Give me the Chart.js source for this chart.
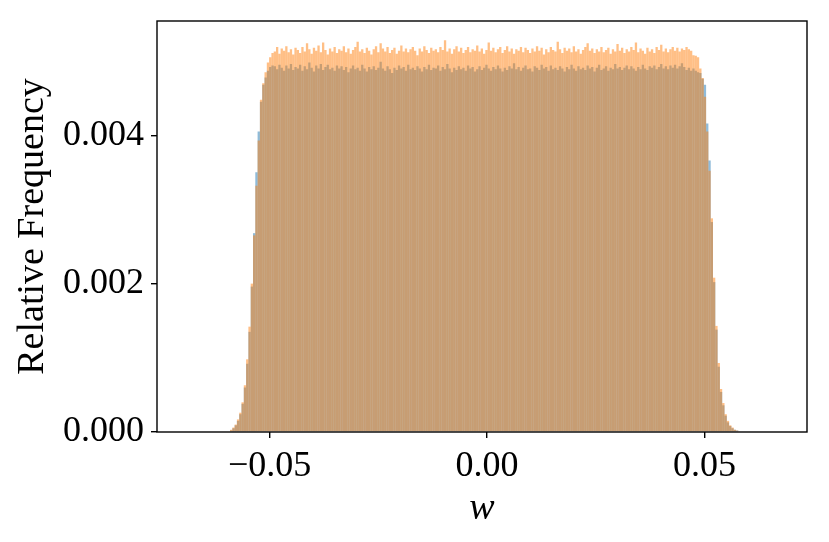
<!DOCTYPE html>
<html>
<head>
<meta charset="utf-8">
<script src="https://cdn.jsdelivr.net/npm/chart.js@4.4.1/dist/chart.umd.min.js"></script>
<style>
  html, body { margin: 0; padding: 0; background: #fff; }
</style>
</head>
<body>
<canvas id="myChart" width="829" height="542"></canvas>
<script>
// histogram bins (left edge of first bin, bin width)
var binStart = -0.05911;
var binWidth = 0.000529;

var blueValues = [
  0.00002, 0.00005, 0.00009, 0.00015, 0.00024, 0.00038, 0.00060, 0.00092, 0.00135, 0.00196,
  0.00268, 0.00350, 0.00405, 0.00445, 0.00468, 0.00478, 0.00487, 0.00492, 0.00494,
  0.00493, 0.00489, 0.00495, 0.00491, 0.00487, 0.00494, 0.00490, 0.00496, 0.00488, 0.00492,
  0.00490, 0.00495, 0.00487, 0.00493, 0.00489, 0.00498, 0.00491, 0.00486, 0.00494, 0.00490,
  0.00496, 0.00488, 0.00492, 0.00495, 0.00489, 0.00491, 0.00487, 0.00494, 0.00490, 0.00493,
  0.00488, 0.00492, 0.00485, 0.00490, 0.00494, 0.00489, 0.00491, 0.00487, 0.00495, 0.00490,
  0.00486, 0.00492, 0.00489, 0.00493, 0.00488, 0.00491, 0.00499, 0.00490, 0.00487, 0.00493,
  0.00489, 0.00484, 0.00491, 0.00488, 0.00494, 0.00490, 0.00492, 0.00487, 0.00495, 0.00489,
  0.00491, 0.00488, 0.00493, 0.00490, 0.00486, 0.00492, 0.00489, 0.00495, 0.00488, 0.00491,
  0.00490, 0.00494, 0.00487, 0.00492, 0.00489, 0.00496, 0.00490, 0.00485, 0.00491, 0.00488,
  0.00493, 0.00489, 0.00491, 0.00487, 0.00494, 0.00490, 0.00492, 0.00486, 0.00489, 0.00493,
  0.00488, 0.00491, 0.00495, 0.00490, 0.00487, 0.00492, 0.00489, 0.00494, 0.00490, 0.00486,
  0.00491, 0.00488, 0.00493, 0.00490, 0.00497, 0.00489, 0.00492, 0.00487, 0.00491, 0.00494,
  0.00489, 0.00490, 0.00486, 0.00493, 0.00491, 0.00488, 0.00495, 0.00490, 0.00492, 0.00487,
  0.00494, 0.00489, 0.00491, 0.00488, 0.00493, 0.00490, 0.00486, 0.00492, 0.00489, 0.00495,
  0.00490, 0.00487, 0.00493, 0.00489, 0.00491, 0.00488, 0.00494, 0.00490, 0.00492, 0.00486,
  0.00491, 0.00495, 0.00488, 0.00490, 0.00493, 0.00487, 0.00491, 0.00489, 0.00496, 0.00490,
  0.00492, 0.00488, 0.00491, 0.00494, 0.00489, 0.00493, 0.00490, 0.00487, 0.00492, 0.00489,
  0.00495, 0.00490, 0.00488, 0.00493, 0.00491, 0.00494, 0.00489, 0.00492, 0.00496, 0.00490,
  0.00493, 0.00489, 0.00494, 0.00491, 0.00495, 0.00490, 0.00493, 0.00497, 0.00492, 0.00488, 0.00491,
  0.00487, 0.00490, 0.00487, 0.00485, 0.00484, 0.00476, 0.00468, 0.00416, 0.00366, 0.00283,
  0.00202, 0.00138, 0.00088, 0.00054, 0.00036, 0.00022, 0.00013, 0.00008, 0.00005, 0.00003,
  0.00002, 0.00001
];

var orangeValues = [
  0.00003, 0.00006, 0.00010, 0.00017, 0.00026, 0.00040, 0.00063, 0.00098, 0.00142, 0.00200,
  0.00265, 0.00332, 0.00393, 0.00448, 0.00470, 0.00485, 0.00498, 0.00505, 0.00511,
  0.00513, 0.00519, 0.00510, 0.00517, 0.00514, 0.00520, 0.00512, 0.00516, 0.00509, 0.00518,
  0.00515, 0.00511, 0.00519, 0.00513, 0.00524, 0.00516, 0.00510, 0.00518, 0.00514, 0.00521,
  0.00512, 0.00525, 0.00515, 0.00509, 0.00517, 0.00513, 0.00519, 0.00511, 0.00516, 0.00514,
  0.00520, 0.00512, 0.00517, 0.00510, 0.00515, 0.00519, 0.00526, 0.00513, 0.00516, 0.00511,
  0.00518, 0.00514, 0.00509, 0.00516, 0.00520, 0.00512, 0.00524, 0.00517, 0.00513, 0.00519,
  0.00511, 0.00515, 0.00518, 0.00510, 0.00514, 0.00521, 0.00513, 0.00517, 0.00512, 0.00516,
  0.00519, 0.00514, 0.00508, 0.00517, 0.00513, 0.00520, 0.00515, 0.00511, 0.00518, 0.00514,
  0.00516, 0.00512, 0.00519, 0.00515, 0.00528, 0.00513, 0.00517, 0.00510, 0.00516, 0.00520,
  0.00513, 0.00518, 0.00511, 0.00515, 0.00519, 0.00512, 0.00516, 0.00514, 0.00521, 0.00513,
  0.00517, 0.00510, 0.00515, 0.00525, 0.00514, 0.00518, 0.00512, 0.00516, 0.00519, 0.00511,
  0.00515, 0.00520, 0.00513, 0.00517, 0.00510, 0.00516, 0.00514, 0.00519, 0.00512, 0.00518,
  0.00515, 0.00511, 0.00517, 0.00513, 0.00520, 0.00514, 0.00518, 0.00509, 0.00516, 0.00512,
  0.00519, 0.00515, 0.00513, 0.00526, 0.00516, 0.00511, 0.00518, 0.00514, 0.00517, 0.00512,
  0.00520, 0.00513, 0.00516, 0.00510, 0.00515, 0.00519, 0.00524, 0.00514, 0.00517, 0.00511,
  0.00516, 0.00513, 0.00519, 0.00512, 0.00515, 0.00518, 0.00510, 0.00516, 0.00513, 0.00523,
  0.00514, 0.00518, 0.00511, 0.00516, 0.00513, 0.00519, 0.00515, 0.00525, 0.00512, 0.00517,
  0.00514, 0.00510, 0.00518, 0.00513, 0.00516, 0.00511, 0.00519, 0.00515, 0.00522, 0.00513,
  0.00517, 0.00512, 0.00516, 0.00519, 0.00514, 0.00518, 0.00513, 0.00517, 0.00515, 0.00519, 0.00516,
  0.00514, 0.00508, 0.00507, 0.00505, 0.00490, 0.00477, 0.00452, 0.00405, 0.00352, 0.00288,
  0.00208, 0.00143, 0.00093, 0.00058, 0.00039, 0.00024, 0.00015, 0.00009, 0.00006, 0.00003,
  0.00002, 0.00001
];

var xTicks = [-0.05, 0, 0.05];
var xTickLabels = ["\u22120.05", "0.00", "0.05"];
var yTicks = [0, 0.002, 0.004];
var yTickLabels = ["0.000", "0.002", "0.004"];

var binCenters = blueValues.map(function (v, i) { return binStart + (i + 0.5) * binWidth; });

function toPoints(values) {
  return values.map(function (v, i) { return { x: binCenters[i], y: v }; });
}

var serif = "'Liberation Serif', 'DejaVu Serif', serif";

// box around the plot area, like matplotlib's spines
var framePlugin = {
  id: "frame",
  afterDatasetsDraw: function (chart) {
    var a = chart.chartArea;
    var ctx = chart.ctx;
    ctx.save();
    ctx.strokeStyle = "#000";
    ctx.lineWidth = 1.4;
    ctx.strokeRect(a.left, a.top, a.right - a.left, a.bottom - a.top);
    ctx.restore();
  }
};

var barStyle = {
  grouped: false,
  barPercentage: 1,
  categoryPercentage: 1,
  borderWidth: 0,
  inflateAmount: 0
};

new Chart("myChart", {
  type: "bar",
  data: {
    datasets: [
      Object.assign({
        data: toPoints(blueValues),
        backgroundColor: "rgba(31, 119, 180, 0.5)",
        order: 1
      }, barStyle),
      Object.assign({
        data: toPoints(orangeValues),
        backgroundColor: "rgba(255, 127, 14, 0.5)",
        order: 0
      }, barStyle)
    ]
  },
  options: {
    responsive: false,
    animation: false,
    devicePixelRatio: 1,
    layout: { padding: { top: 21, right: 22, left: 0, bottom: 0 } },
    plugins: {
      legend: { display: false },
      tooltip: { enabled: false }
    },
    scales: {
      x: {
        type: "linear",
        offset: false,
        min: -0.0759,
        max: 0.0736,
        afterBuildTicks: function (scale) {
          scale.ticks = xTicks.map(function (v) { return { value: v }; });
        },
        afterFit: function (scale) {
          scale.height = 110;
          scale.paddingLeft = 0;
          scale.paddingRight = 0;
        },
        grid: { offset: false, drawOnChartArea: false, tickLength: 6, color: "#000", lineWidth: 1.4 },
        border: { display: false },
        ticks: {
          autoSkip: false,
          maxRotation: 0,
          padding: 7,
          color: "#000",
          font: { family: serif, size: 36 },
          callback: function (value, index) { return xTickLabels[index]; }
        },
        title: {
          display: true,
          text: "w",
          color: "#000",
          font: { family: serif, size: 38, style: "italic" },
          padding: { top: 0, bottom: 10 }
        }
      },
      y: {
        min: 0,
        max: 0.00554,
        afterBuildTicks: function (scale) {
          scale.ticks = yTicks.map(function (v) { return { value: v }; });
        },
        afterFit: function (scale) {
          scale.width = 157;
          scale.paddingTop = 0;
          scale.paddingBottom = 0;
        },
        grid: { drawOnChartArea: false, tickLength: 6, color: "#000", lineWidth: 1.4 },
        border: { display: false },
        ticks: {
          autoSkip: false,
          padding: 7,
          color: "#000",
          font: { family: serif, size: 36 },
          callback: function (value, index) { return yTickLabels[index]; }
        },
        title: {
          display: true,
          text: "Relative Frequency",
          color: "#000",
          font: { family: serif, size: 38 },
          padding: { top: 10, bottom: 0 }
        }
      }
    }
  },
  plugins: [framePlugin]
});
</script>
</body>
</html>
